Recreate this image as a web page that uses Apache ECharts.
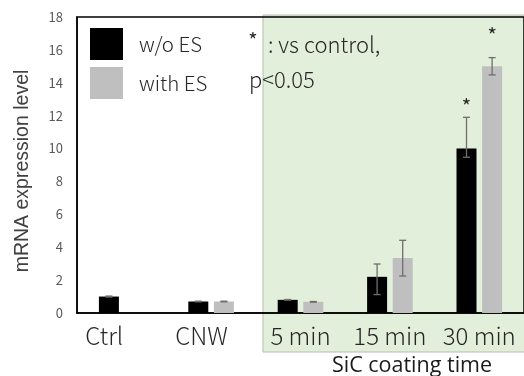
<!DOCTYPE html>
<html>
<head>
<meta charset="utf-8">
<script src="https://cdn.jsdelivr.net/npm/echarts@6/dist/echarts.min.js"></script>
<style>
  html, body { margin: 0; padding: 0; background: #fff; }
  #chart { width: 524px; height: 376px; }
</style>
</head>
<body>
<div id="chart"></div>
<script>
// 数据
const categories = ["Ctrl", "CNW", "5 min", "15 min", "30 min"];
const woES = [1.0, 0.7, 0.8, 2.2, 10.0];
const withES = [null, 0.7, 0.68, 3.35, 15.0];
const woErrLow = [0.97, 0.68, 0.78, 1.12, 9.47];
const woErrHigh = [1.03, 0.72, 0.82, 2.98, 11.9];
const withErrLow = [null, 0.68, 0.66, 2.25, 14.48];
const withErrHigh = [null, 0.72, 0.7, 4.42, 15.53];
// 显著性星号位置 (y 值)
const woStar = [null, null, null, null, 12.8];
const withStar = [null, null, null, null, 17.15];
const yTicks = [0, 2, 4, 6, 8, 10, 12, 14, 16, 18];

const JP = "Noto Sans CJK JP";
const chart = echarts.init(document.getElementById("chart"));

/** 误差线 + 星号 */
function errorSeries(name, low, high, star, offset) {
  const data = categories.map((c, i) => [i, low[i], high[i], star[i]]);
  return {
    name: name + "_err",
    type: "custom",
    z: 5,
    silent: true,
    data: data,
    renderItem(params, api) {
      const i = api.value(0);
      const lo = low[i];
      const hi = high[i];
      if (lo == null) return null;
      const p1 = api.coord([i, lo]);
      const p2 = api.coord([i, hi]);
      const x = p1[0] + offset;
      const cap = 3.5;
      const style = { stroke: "#6e6e6e", lineWidth: 1.3 };
      const children = [
        { type: "line", shape: { x1: x, y1: p1[1], x2: x, y2: p2[1] }, style },
        { type: "line", shape: { x1: x - cap, y1: p1[1], x2: x + cap, y2: p1[1] }, style },
        { type: "line", shape: { x1: x - cap, y1: p2[1], x2: x + cap, y2: p2[1] }, style },
      ];
      if (star[i] != null) {
        const ps = api.coord([i, star[i]]);
        children.push({
          type: "text",
          style: {
            text: "*",
            x: x,
            y: ps[1] + 4,
            align: "center",
            verticalAlign: "middle",
            fontSize: 20,
            fontFamily: JP,
            fill: "#262626",
          },
        });
      }
      return { type: "group", children };
    },
  };
}

chart.setOption({
  animation: false,
  grid: {
    left: 77,
    top: 17,
    width: 456,
    height: 296,
    show: true,
    borderColor: "#000",
    borderWidth: 1.5,
    backgroundColor: "transparent",
  },
  legend: {
    orient: "vertical",
    left: 90,
    top: 28,
    padding: 0,
    itemWidth: 33,
    itemHeight: 32,
    itemGap: 7,
    data: [
      { name: "w/o ES", icon: "rect" },
      { name: "with ES", icon: "rect" },
    ],
    textStyle: {
      fontSize: 20.5,
      fontWeight: 300,
      color: "#262626",
      fontFamily: JP,
      padding: [0, 0, 0, 11],
    },
  },
  graphic: [
    {
      type: "rect",
      z: -10,
      shape: { x: 263, y: 15, width: 270, height: 337 },
      style: { fill: "#e2efda", stroke: "#b4bfae", lineWidth: 1 },
    },
    {
      type: "text",
      x: 253,
      y: 40,
      style: { text: "*", fontSize: 20, fill: "#262626", fontFamily: JP, align: "center", verticalAlign: "middle" },
    },
    {
      type: "text",
      x: 268,
      y: 45,
      style: { text: ": vs control,", fontSize: 22, fontWeight: 300, fill: "#262626", fontFamily: JP, verticalAlign: "middle" },
    },
    {
      type: "text",
      x: 249,
      y: 80,
      style: { text: "p<0.05", fontSize: 22, fontWeight: 300, fill: "#262626", fontFamily: JP, verticalAlign: "middle" },
    },
    {
      type: "text",
      x: 412,
      y: 366,
      style: { text: "SiC coating time", fontSize: 21.5, fill: "#1a1a1a", fontFamily: "Open Sans", align: "center", verticalAlign: "middle" },
    },
  ],
  xAxis: {
    type: "category",
    data: categories,
    axisLine: { lineStyle: { color: "#000", width: 1.5 } },
    axisTick: { show: false },
    axisLabel: {
      interval: 0,
      hideOverlap: false,
      margin: 11,
      fontSize: 24,
      fontWeight: 300,
      color: "#262626",
      fontFamily: JP,
      formatter(v) {
        if (v === "Ctrl") return "{l1|" + v + "}";
        if (v === "CNW") return "{l2|" + v + "}";
        return v;
      },
      rich: {
        l1: { fontSize: 24, fontWeight: 300, fontFamily: JP, color: "#262626", padding: [0, 35, 0, 0] },
        l2: { fontSize: 24, fontWeight: 300, fontFamily: JP, color: "#262626", padding: [0, 19, 0, 0] },
      },
    },
  },
  yAxis: {
    type: "value",
    min: yTicks[0],
    max: yTicks[yTicks.length - 1],
    interval: 2,
    name: "mRNA expression level",
    nameLocation: "middle",
    nameGap: 44,
    nameRotate: 90,
    nameTextStyle: {
      fontSize: 19.5,
      color: "#404040",
      fontFamily: "Liberation Sans",
      padding: [0, 12, 0, 0],
    },
    axisLine: { show: true, lineStyle: { color: "#000", width: 1.5 } },
    axisTick: { show: false },
    splitLine: { show: false },
    axisLabel: {
      margin: 14,
      fontSize: 13,
      color: "#595959",
      fontFamily: JP,
    },
  },
  series: [
    {
      name: "w/o ES",
      type: "bar",
      data: woES,
      barWidth: 20,
      barGap: "28%",
      itemStyle: { color: "#000" },
    },
    {
      name: "with ES",
      type: "bar",
      data: withES,
      barWidth: 20,
      itemStyle: { color: "#bfbfbf" },
    },
    errorSeries("w/o ES", woErrLow, woErrHigh, woStar, -12.8),
    errorSeries("with ES", withErrLow, withErrHigh, withStar, 12.8),
  ],
});
</script>
</body>
</html>
